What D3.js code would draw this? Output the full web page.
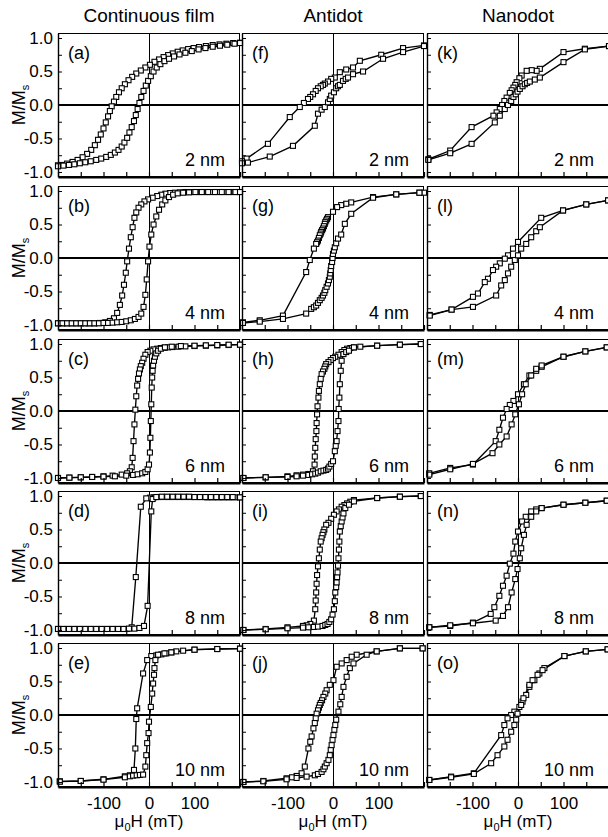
<!DOCTYPE html>
<html>
<head>
<meta charset="utf-8">
<script src="https://cdn.jsdelivr.net/npm/d3@7"></script>
<style>
  body { margin: 0; background: #fff; }
  svg { display: block; font-family: "Liberation Sans", Arial, Helvetica, sans-serif; }
</style>
</head>
<body>
<svg id="fig" width="608" height="837"></svg>
<script>
// ---- data (H in mT, M/Ms) ----
var colTitles = ["Continuous film", "Antidot", "Nanodot"];
var thickness = ["2 nm", "4 nm", "6 nm", "8 nm", "10 nm"];
var letters = [["(a)", "(b)", "(c)", "(d)", "(e)"],
               ["(f)", "(g)", "(h)", "(i)", "(j)"],
               ["(k)", "(l)", "(m)", "(n)", "(o)"]];
var xTicks = [-200, -150, -100, -50, 0, 50, 100, 150, 200];
var xLabels = [-100, 0, 100];
var yTicks = [-1, -0.75, -0.5, -0.25, 0, 0.25, 0.5, 0.75, 1];
var yLabels = [-1, -0.5, 0, 0.5, 1];

// continuous film
var a_desc = [[200,0.93],[185,0.925],[170,0.915],[155,0.905],[140,0.895],[125,0.88],[110,0.865],[98,0.85],[86,0.835],[74,0.815],[63,0.795],[52,0.77],[42,0.745],[32,0.715],[22,0.68],[12,0.645],[2,0.6],[-8,0.56],[-18,0.515],[-28,0.47],[-37,0.42],[-45,0.37],[-53,0.31],[-60,0.25],[-66,0.19],[-72,0.12],[-77,0.05],[-82,-0.02],[-86,-0.09],[-90,-0.17],[-95,-0.26],[-100,-0.35],[-106,-0.44],[-112,-0.52],[-119,-0.6],[-127,-0.67],[-136,-0.73],[-146,-0.78],[-157,-0.82],[-168,-0.85],[-180,-0.875],[-192,-0.895],[-200,-0.9]];
var a_asc = [[-200,-0.915],[-188,-0.905],[-176,-0.895],[-164,-0.885],[-152,-0.87],[-140,-0.855],[-128,-0.84],[-116,-0.82],[-105,-0.8],[-94,-0.775],[-84,-0.745],[-75,-0.71],[-67,-0.67],[-60,-0.62],[-54,-0.56],[-48,-0.49],[-43,-0.41],[-38,-0.33],[-33,-0.24],[-29,-0.15],[-25,-0.06],[-21,0.03],[-17,0.12],[-12,0.21],[-7,0.29],[-2,0.36],[4,0.43],[10,0.5],[17,0.56],[25,0.61],[34,0.655],[44,0.69],[55,0.725],[67,0.755],[80,0.78],[94,0.805],[109,0.83],[124,0.85],[140,0.87],[156,0.885],[172,0.9],[188,0.915],[200,0.925]];
var b_desc = [[200,0.985],[188,0.985],[176,0.985],[164,0.985],[152,0.985],[140,0.985],[128,0.985],[116,0.985],[104,0.985],[92,0.985],[80,0.985],[68,0.98],[57,0.975],[46,0.97],[36,0.96],[27,0.945],[18,0.925],[8,0.9],[-2,0.875],[-10,0.845],[-17,0.8],[-23,0.75],[-28,0.68],[-32,0.6],[-36,0.46],[-40,0.31],[-44,0.14],[-48,-0.05],[-51,-0.22],[-55,-0.4],[-59,-0.56],[-64,-0.7],[-70,-0.82],[-77,-0.9],[-86,-0.94],[-96,-0.96],[-108,-0.97],[-120,-0.975],[-132,-0.975],[-144,-0.975],[-156,-0.975],[-168,-0.975],[-180,-0.975],[-192,-0.975],[-200,-0.975]];
var b_asc = [[-200,-0.975],[-190,-0.975],[-180,-0.975],[-170,-0.975],[-160,-0.975],[-150,-0.975],[-140,-0.975],[-130,-0.975],[-120,-0.975],[-110,-0.975],[-100,-0.97],[-90,-0.97],[-80,-0.965],[-70,-0.96],[-60,-0.955],[-50,-0.945],[-40,-0.93],[-31,-0.91],[-23,-0.88],[-17,-0.83],[-12,-0.73],[-8,-0.55],[-5,-0.32],[-2,-0.05],[1,0.17],[5,0.35],[10,0.5],[16,0.62],[22,0.72],[29,0.8],[36,0.86],[44,0.91],[53,0.945],[63,0.965],[75,0.975],[88,0.98],[102,0.985],[116,0.985],[130,0.985],[145,0.985],[160,0.985],[175,0.985],[190,0.985],[200,0.985]];
var c_desc = [[200,0.99],[175,0.985],[150,0.98],[125,0.975],[100,0.97],[80,0.965],[65,0.96],[52,0.955],[42,0.95],[34,0.945],[26,0.94],[18,0.93],[10,0.92],[3,0.9],[-3,0.88],[-8,0.84],[-12,0.78],[-15,0.72],[-18,0.67],[-20,0.62],[-22,0.56],[-24,0.48],[-26,0.38],[-28,0.22],[-30,0.02],[-32,-0.2],[-34,-0.45],[-36,-0.7],[-38,-0.84],[-42,-0.9],[-48,-0.93],[-60,-0.95],[-80,-0.965],[-100,-0.975],[-125,-0.985],[-150,-0.99],[-175,-0.995],[-200,-1.0]];
var c_asc = [[-200,-1.0],[-175,-0.995],[-150,-0.99],[-125,-0.985],[-100,-0.98],[-75,-0.975],[-50,-0.965],[-35,-0.955],[-25,-0.945],[-15,-0.93],[-8,-0.91],[-3,-0.87],[0,-0.8],[2,-0.62],[3,-0.4],[4,-0.15],[5,0.1],[6,0.35],[7,0.5],[8,0.6],[9,0.68],[11,0.75],[13,0.81],[16,0.86],[20,0.9],[26,0.93],[35,0.95],[50,0.96],[70,0.97],[100,0.975],[125,0.98],[150,0.985],[175,0.99],[200,0.99]];
var d_desc = [[200,0.98],[188,0.98],[176,0.98],[164,0.98],[152,0.98],[140,0.98],[128,0.98],[116,0.985],[104,0.985],[92,0.985],[80,0.985],[68,0.985],[56,0.985],[44,0.985],[32,0.985],[20,0.985],[10,0.98],[2,0.975],[-6,0.965],[-18,0.84],[-29,-0.21],[-38,-0.96],[-48,-0.985],[-60,-0.985],[-72,-0.985],[-84,-0.985],[-96,-0.985],[-108,-0.985],[-120,-0.985],[-132,-0.985],[-144,-0.985],[-156,-0.985],[-168,-0.985],[-180,-0.985],[-192,-0.985],[-200,-0.985]];
var d_asc = [[-200,-0.985],[-188,-0.985],[-176,-0.985],[-164,-0.985],[-152,-0.985],[-140,-0.985],[-128,-0.985],[-116,-0.985],[-104,-0.985],[-92,-0.985],[-80,-0.985],[-68,-0.985],[-56,-0.985],[-44,-0.98],[-32,-0.98],[-21,-0.97],[-11,-0.94],[-3,-0.64],[5,0.77],[8,0.955],[16,0.985],[28,0.99],[40,0.99],[52,0.99],[64,0.99],[76,0.99],[88,0.99],[100,0.985],[112,0.985],[124,0.985],[136,0.985],[148,0.985],[160,0.985],[172,0.985],[184,0.985],[200,0.98]];
var e_desc = [[200,0.99],[150,0.985],[100,0.975],[75,0.96],[60,0.95],[49,0.935],[38,0.92],[27,0.905],[16,0.89],[5,0.88],[-4,0.82],[-13,0.62],[-26,0.1],[-28,-0.06],[-30,-0.5],[-33,-0.82],[-42,-0.9],[-53,-0.915],[-100,-0.96],[-150,-0.985],[-196,-0.99]];
var e_asc = [[-196,-0.995],[-150,-0.985],[-100,-0.965],[-53,-0.93],[-42,-0.915],[-35,-0.905],[-27,-0.9],[-20,-0.895],[-13,-0.89],[-8,-0.77],[-6,-0.6],[-4,-0.42],[-1,-0.27],[0,-0.1],[4,0.12],[7,0.32],[9,0.47],[11,0.6],[12,0.7],[14,0.82],[20,0.9],[34,0.92],[49,0.935],[100,0.975],[150,0.985],[200,0.99]];

// antidot
var f_desc = [[200,0.89],[154,0.85],[106,0.75],[59,0.66],[44,0.56],[29,0.53],[15,0.49],[4,0.41],[-4,0.39],[-11,0.35],[-18,0.32],[-22,0.3],[-27,0.28],[-33,0.25],[-38,0.21],[-44,0.16],[-50,0.12],[-55,0.09],[-64,0.03],[-73,-0.03],[-95,-0.18],[-143,-0.58],[-190,-0.8],[-200,-0.84]];
var f_asc = [[-200,-0.87],[-187,-0.86],[-139,-0.77],[-88,-0.61],[-40,-0.31],[-33,-0.13],[-25,-0.07],[-18,-0.03],[-11,0.04],[-7,0.09],[-4,0.14],[2,0.19],[7,0.25],[11,0.28],[15,0.3],[22,0.36],[28,0.39],[33,0.41],[44,0.46],[66,0.5],[110,0.69],[154,0.79],[200,0.88]];
var g_desc = [[200,0.975],[190,0.975],[139,0.95],[88,0.91],[40,0.83],[29,0.81],[18,0.79],[9,0.76],[0,0.69],[-11,0.61],[-13,0.585],[-15,0.56],[-17,0.535],[-18,0.51],[-20,0.475],[-22,0.44],[-24,0.415],[-26,0.39],[-27,0.365],[-29,0.34],[-31,0.3],[-33,0.26],[-35,0.235],[-37,0.21],[-42,0.14],[-51,-0.03],[-59,-0.21],[-110,-0.86],[-161,-0.93],[-198,-0.96]];
var g_asc = [[-198,-0.97],[-161,-0.95],[-110,-0.91],[-59,-0.83],[-48,-0.76],[-42,-0.735],[-37,-0.71],[-33,-0.67],[-29,-0.63],[-25,-0.595],[-22,-0.56],[-19,-0.52],[-17,-0.48],[-14,-0.43],[-11,-0.38],[-9,-0.33],[-7,-0.28],[-6,-0.23],[-5,-0.18],[-4,-0.12],[-2,-0.06],[-1,0.0],[0,0.06],[2,0.11],[4,0.16],[7,0.22],[11,0.29],[18,0.35],[26,0.51],[40,0.66],[88,0.9],[139,0.95],[190,0.975]];
var h_desc = [[193,1.0],[147,0.99],[97,0.975],[60,0.96],[46,0.95],[38,0.94],[31,0.93],[25,0.91],[19,0.88],[12,0.84],[5,0.81],[0,0.79],[-5,0.76],[-10,0.73],[-15,0.7],[-17,0.665],[-19,0.63],[-22,0.59],[-25,0.55],[-27,0.48],[-29,0.4],[-31,0.3],[-32,0.2],[-34,0.07],[-35,-0.05],[-36,-0.18],[-36.5,-0.3],[-38,-0.42],[-39,-0.55],[-40,-0.68],[-40.5,-0.8],[-44,-0.9],[-54,-0.94],[-66,-0.95],[-80,-0.96],[-100,-0.975],[-148,-0.99],[-197,-1.0]];
var h_asc = [[-197,-1.0],[-148,-0.99],[-100,-0.985],[-80,-0.975],[-66,-0.965],[-54,-0.955],[-46,-0.945],[-39,-0.935],[-33,-0.92],[-27,-0.9],[-21,-0.89],[-15,-0.88],[-11,-0.86],[-8,-0.83],[-4,-0.79],[0,-0.75],[4,-0.6],[6,-0.52],[8,-0.45],[10,-0.3],[12,-0.15],[12.5,0.03],[14,0.2],[15,0.4],[17,0.6],[19,0.75],[23,0.85],[29,0.88],[35,0.9],[46,0.95],[97,0.975],[147,0.99],[193,1.0]];
var i_desc = [[193,1.0],[147,0.99],[97,0.97],[46,0.94],[38,0.915],[31,0.89],[25,0.865],[19,0.84],[13,0.8],[8,0.77],[2,0.72],[-4,0.66],[-10,0.6],[-15,0.57],[-19,0.5],[-21,0.46],[-23,0.42],[-25,0.37],[-27,0.32],[-29,0.2],[-31,0.07],[-33,-0.05],[-35,-0.18],[-36,-0.31],[-37,-0.44],[-38,-0.56],[-39,-0.69],[-42,-0.86],[-50,-0.91],[-58,-0.93],[-66,-0.94],[-100,-0.96],[-148,-0.985],[-197,-1.0]];
var i_asc = [[-197,-1.0],[-148,-0.99],[-100,-0.975],[-66,-0.965],[-54,-0.96],[-42,-0.955],[-33,-0.95],[-23,-0.94],[-17,-0.925],[-12,-0.91],[-8,-0.88],[-4,-0.84],[-1,-0.77],[2,-0.69],[4,-0.57],[5,-0.44],[7,-0.36],[8,-0.29],[9,-0.21],[10,-0.14],[11,-0.04],[12,0.07],[13,0.2],[14,0.32],[15,0.47],[17,0.55],[19,0.62],[21,0.68],[23,0.74],[27,0.82],[35,0.87],[46,0.92],[97,0.97],[147,0.99],[193,1.0]];
var j_desc = [[197,0.995],[147,0.995],[96,0.95],[52,0.9],[41,0.87],[30,0.82],[19,0.77],[8,0.72],[1,0.52],[-7,0.45],[-14,0.37],[-17,0.32],[-21,0.27],[-24,0.22],[-27,0.18],[-29,0.15],[-31,0.11],[-33,0.07],[-36,0.02],[-38,-0.05],[-40,-0.12],[-43,-0.2],[-47,-0.32],[-50,-0.4],[-54,-0.5],[-62,-0.77],[-69,-0.87],[-80,-0.91],[-90,-0.93],[-102,-0.945],[-153,-0.985],[-197,-1.0]];
var j_asc = [[-197,-1.0],[-153,-0.99],[-102,-0.96],[-80,-0.94],[-58,-0.92],[-40,-0.9],[-33,-0.88],[-25,-0.85],[-21,-0.81],[-18,-0.77],[-14,-0.72],[-10,-0.67],[-7,-0.6],[-5,-0.52],[-3,-0.45],[-1,-0.37],[1,-0.3],[3,-0.22],[5,-0.15],[7,-0.07],[12,0.05],[16,0.16],[19,0.27],[23,0.42],[30,0.57],[37,0.7],[45,0.77],[74,0.9],[96,0.95],[147,0.995],[197,0.995]];

// nanodot
var k_desc = [[200,0.88],[147,0.84],[100,0.79],[48,0.54],[41,0.51],[30,0.52],[19,0.51],[8,0.44],[3,0.4],[-3,0.34],[-6,0.3],[-10,0.26],[-14,0.22],[-18,0.18],[-25,0.11],[-30,0.06],[-35,0.0],[-40,-0.06],[-47,-0.11],[-54,-0.16],[-102,-0.33],[-149,-0.68],[-197,-0.81]];
var k_asc = [[-197,-0.82],[-149,-0.72],[-102,-0.58],[-51,-0.26],[-40,-0.16],[-29,-0.06],[-22,0.0],[-15,0.06],[-10,0.12],[-5,0.16],[-1,0.2],[4,0.24],[10,0.28],[15,0.31],[20,0.33],[26,0.35],[37,0.38],[48,0.41],[100,0.64],[147,0.83],[200,0.88]];
var l_desc = [[198,0.86],[150,0.8],[99,0.71],[51,0.6],[0,0.24],[-11,0.14],[-22,0.04],[-29,-0.01],[-40,-0.08],[-48,-0.13],[-55,-0.18],[-66,-0.31],[-73,-0.36],[-88,-0.53],[-99,-0.58],[-146,-0.77],[-194,-0.85]];
var l_asc = [[-194,-0.86],[-146,-0.77],[-99,-0.73],[-48,-0.56],[-37,-0.41],[-29,-0.33],[-22,-0.23],[-15,-0.13],[-7,-0.03],[0,0.04],[7,0.14],[18,0.21],[29,0.31],[40,0.4],[48,0.46],[99,0.71],[150,0.8],[198,0.86]];
var m_desc = [[195,0.95],[148,0.89],[100,0.81],[52,0.66],[40,0.6],[25,0.53],[13,0.4],[0,0.25],[-10,0.15],[-18,0.09],[-25,0.03],[-33,-0.1],[-41,-0.28],[-49,-0.45],[-99,-0.8],[-149,-0.85],[-195,-0.93]];
var m_asc = [[-195,-0.95],[-149,-0.87],[-99,-0.79],[-56,-0.63],[-41,-0.5],[-25,-0.38],[-14,-0.2],[-6,-0.05],[2,0.1],[9,0.25],[17,0.4],[29,0.53],[40,0.63],[52,0.68],[100,0.81],[148,0.89],[195,0.95]];
var n_desc = [[195,0.93],[148,0.9],[100,0.87],[52,0.82],[40,0.8],[29,0.77],[17,0.69],[9,0.62],[0,0.47],[-6,0.32],[-10,0.14],[-18,-0.01],[-25,-0.19],[-33,-0.34],[-41,-0.49],[-52,-0.66],[-60,-0.76],[-99,-0.89],[-149,-0.94],[-195,-0.96]];
var n_asc = [[-195,-0.96],[-149,-0.93],[-99,-0.9],[-49,-0.86],[-33,-0.79],[-22,-0.66],[-14,-0.44],[-6,-0.24],[-1,-0.09],[4,0.07],[7,0.22],[13,0.42],[19,0.57],[29,0.69],[40,0.77],[52,0.82],[100,0.87],[148,0.9],[195,0.93]];
var o_desc = [[197,0.98],[149,0.95],[102,0.88],[58,0.7],[47,0.62],[36,0.52],[25,0.42],[18,0.3],[10,0.2],[3,0.12],[-8,0.05],[-15,0.0],[-23,-0.05],[-30,-0.15],[-37,-0.3],[-97,-0.87],[-147,-0.92],[-195,-0.97]];
var o_asc = [[-195,-0.97],[-147,-0.93],[-97,-0.88],[-59,-0.72],[-45,-0.6],[-30,-0.47],[-23,-0.37],[-15,-0.25],[-8,-0.15],[-4,-0.07],[-1,0.02],[7,0.15],[12,0.25],[25,0.45],[32,0.52],[43,0.6],[54,0.67],[102,0.88],[149,0.95],[197,0.98]];

var loops = [
  [[a_desc, a_asc], [b_desc, b_asc], [c_desc, c_asc], [d_desc, d_asc], [e_desc, e_asc]],
  [[f_desc, f_asc], [g_desc, g_asc], [h_desc, h_asc], [i_desc, i_asc], [j_desc, j_asc]],
  [[k_desc, k_asc], [l_desc, l_asc], [m_desc, m_asc], [n_desc, n_asc], [o_desc, o_asc]]
];

// ---- layout ----
var colX = [58, 242, 427];
var rowY = [33, 186, 339, 491, 643];
var panelW = 182, panelH = 144;

var svg = d3.select("#fig");

var x = d3.scaleLinear().domain([-200, 200]).range([0, panelW]);
var y = d3.scaleLinear().domain([-1.075, 1.075]).range([panelH, 0]);

var line = d3.line()
    .x(function(d) { return x(d[0]); })
    .y(function(d) { return y(d[1]); });

// column titles
svg.selectAll(".coltitle")
  .data(colTitles)
  .enter().append("text")
    .attr("class", "coltitle")
    .attr("x", function(d, i) { return colX[i] + panelW / 2; })
    .attr("y", 22)
    .attr("text-anchor", "middle")
    .style("font-size", "19px")
    .text(function(d) { return d; });

for (var c = 0; c < 3; c++) {
  for (var r = 0; r < 5; r++) {
    var g = svg.append("g")
        .attr("transform", "translate(" + colX[c] + "," + rowY[r] + ")");

    // frame
    g.append("rect")
        .attr("x", 0.5).attr("y", 0.5)
        .attr("width", panelW - 1).attr("height", panelH - 1)
        .attr("fill", "none").attr("stroke", "#000").attr("stroke-width", 1);

    // zero lines
    g.append("line")
        .attr("x1", 0).attr("x2", panelW)
        .attr("y1", y(0)).attr("y2", y(0))
        .attr("stroke", "#000").attr("stroke-width", 1.8);
    g.append("line")
        .attr("x1", x(0) + 0.5).attr("x2", x(0) + 0.5)
        .attr("y1", 0).attr("y2", panelH)
        .attr("stroke", "#000").attr("stroke-width", 1);

    // loop branches
    loops[c][r].forEach(function(branch) {
      g.append("path")
          .datum(branch)
          .attr("d", line)
          .attr("fill", "none")
          .attr("stroke", "#000")
          .attr("stroke-width", 1.35);
    });
    loops[c][r].forEach(function(branch) {
      g.selectAll(null)
        .data(branch)
        .enter().append("rect")
          .attr("x", function(d) { return x(d[0]) - 2.5; })
          .attr("y", function(d) { return y(d[1]) - 2.5; })
          .attr("width", 5).attr("height", 5)
          .attr("fill", "#fff").attr("stroke", "#000").attr("stroke-width", 1.1);
    });

    // axes
    var lastRow = (r === 4);
    var xAxis = d3.axisBottom(x)
        .tickValues(xTicks)
        .tickSize(-5)
        .tickSizeOuter(0)
        .tickPadding(10)
        .tickFormat(function(d) { return (lastRow && xLabels.indexOf(d) >= 0) ? String(d) : ""; });
    var xg = g.append("g")
        .attr("transform", "translate(0," + panelH + ")")
        .call(xAxis);
    xg.select(".domain").attr("stroke-width", 2.2);
    xg.selectAll(".tick line").attr("stroke-width", 1.2);
    xg.selectAll("text").style("font-size", "17px").attr("fill", "#000");

    var firstCol = (c === 0);
    var yAxis = d3.axisLeft(y)
        .tickValues(yTicks)
        .tickSize(-4)
        .tickSizeOuter(0)
        .tickPadding(5)
        .tickFormat(function(d) { return (firstCol && yLabels.indexOf(d) >= 0) ? d.toFixed(1) : ""; });
    var yg = g.append("g").call(yAxis);
    yg.select(".domain").attr("stroke-width", 1.4);
    yg.selectAll("text").style("font-size", "17px").attr("fill", "#000");

    // panel letter and thickness
    g.append("text")
        .attr("x", 10).attr("y", 26)
        .style("font-size", "18px")
        .text(letters[c][r]);
    g.append("text")
        .attr("x", panelW - 15).attr("y", panelH - 11)
        .attr("text-anchor", "end")
        .style("font-size", "18px")
        .text(thickness[r]);

    // y-axis title
    if (firstCol) {
      var yt = svg.append("text")
          .attr("transform", "translate(25," + (rowY[r] + y(0)) + ") rotate(-90)")
          .attr("text-anchor", "middle")
          .style("font-size", "18px");
      yt.append("tspan").text("M/M");
      yt.append("tspan").attr("dy", 4).style("font-size", "11px").text("s");
    }

    // x-axis title
    if (lastRow) {
      var xt = svg.append("text")
          .attr("x", colX[c] + panelW / 2)
          .attr("y", 827)
          .attr("text-anchor", "middle")
          .style("font-size", "17px");
      xt.append("tspan").text("\u03bc");
      xt.append("tspan").attr("dy", 4).style("font-size", "11px").text("0");
      xt.append("tspan").attr("dy", -4).text("H (mT)");
    }
  }
}
</script>
</body>
</html>
